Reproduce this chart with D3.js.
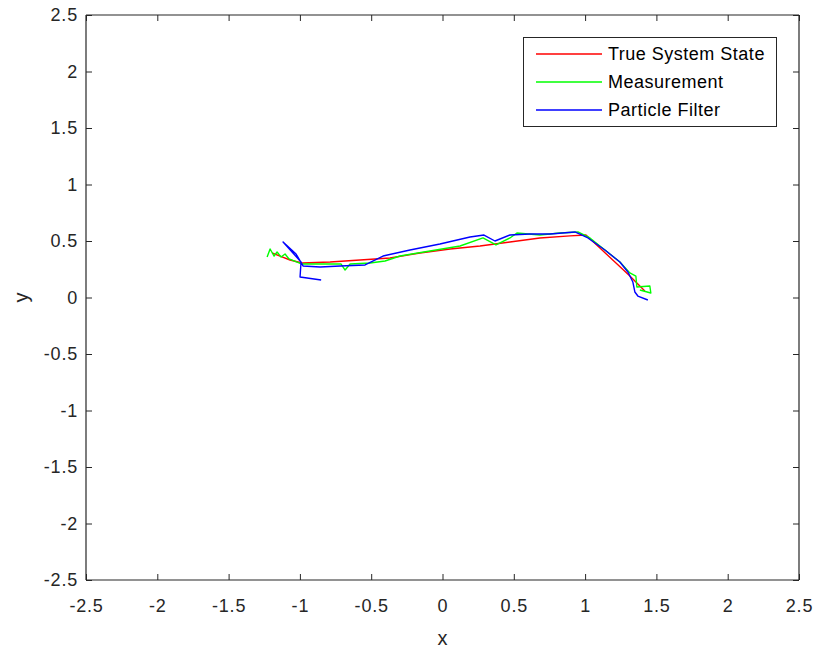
<!DOCTYPE html>
<html><head><meta charset="utf-8">
<script src="https://cdn.jsdelivr.net/npm/d3@7"></script>
<style>body{margin:0;background:#fff}text{font-family:"Liberation Sans",Arial,sans-serif}</style>
</head><body><svg id="c" width="818" height="653"></svg>
<script>
const trueX=[-1.195,-1.139,-1.069,-0.985,-0.788,-0.578,-0.368,-0.158,0.053,0.263,0.473,0.683,0.894,1.006,1.104,1.209,1.314,1.419];
const trueY=[0.394,0.367,0.332,0.305,0.314,0.332,0.350,0.394,0.429,0.456,0.491,0.527,0.545,0.553,0.438,0.314,0.190,0.057];
const measX=[-1.230,-1.209,-1.181,-1.160,-1.132,-1.104,-1.076,-0.985,-0.824,-0.711,-0.683,-0.648,-0.508,-0.403,-0.298,-0.088,0.123,0.284,0.375,0.473,0.522,0.683,0.823,0.950,1.034,1.139,1.244,1.314,1.356,1.363,1.454,1.461,1.384];
const measY=[0.358,0.429,0.367,0.403,0.358,0.385,0.341,0.296,0.296,0.296,0.243,0.296,0.305,0.323,0.367,0.412,0.456,0.527,0.465,0.527,0.571,0.553,0.571,0.580,0.527,0.420,0.314,0.217,0.190,0.093,0.102,0.040,0.066];
const pfX=[-0.851,-0.999,-0.992,-1.118,-1.027,-0.978,-0.858,-0.718,-0.543,-0.417,-0.228,-0.018,0.193,0.291,0.368,0.473,0.613,0.754,0.929,1.020,1.139,1.244,1.300,1.335,1.349,1.370,1.440];
const pfY=[0.155,0.182,0.314,0.491,0.385,0.279,0.270,0.279,0.288,0.367,0.420,0.473,0.535,0.553,0.500,0.553,0.562,0.562,0.580,0.527,0.420,0.314,0.226,0.137,0.049,0.013,-0.022];
const ticks=[-2.5,-2,-1.5,-1,-0.5,0,0.5,1,1.5,2,2.5];
const seriesNames=["True System State","Measurement","Particle Filter"];
const seriesColors=["#ff0000","#00ff00","#0000ff"];

const svg=d3.select("#c");
const L=86,R=799,T=15,B=580;
const x=d3.scaleLinear().domain([-2.5,2.5]).range([L,R]);
const y=d3.scaleLinear().domain([-2.5,2.5]).range([B,T]);
const axCol="#262626",fs=18;

const line=d3.line().x(d=>x(d[0])).y(d=>y(d[1]));
const series=[d3.zip(trueX,trueY),d3.zip(measX,measY),d3.zip(pfX,pfY)];
series.forEach((s,i)=>svg.append("path").attr("d",line(s)).attr("fill","none")
  .attr("stroke",seriesColors[i]).attr("stroke-width",1.4).attr("stroke-linejoin","round"));

const fmt=d=>String(d);
const bx=svg.append("g").attr("transform",`translate(0,${B})`).call(d3.axisBottom(x).tickValues(ticks).tickSize(-6).tickPadding(19).tickFormat(fmt));
const tx=svg.append("g").attr("transform",`translate(0,${T})`).call(d3.axisTop(x).tickValues(ticks).tickSize(-6).tickFormat(""));
const ly=svg.append("g").attr("transform",`translate(${L},0)`).call(d3.axisLeft(y).tickValues(ticks).tickSize(-6).tickPadding(8).tickFormat(fmt));
const ry=svg.append("g").attr("transform",`translate(${R},0)`).call(d3.axisRight(y).tickValues(ticks).tickSize(-6).tickFormat(""));
[bx,tx,ly,ry].forEach(g=>{g.selectAll("path").attr("stroke",axCol).attr("stroke-width",1.2);
  g.selectAll("line").attr("stroke",axCol).attr("stroke-width",1);
  g.selectAll("text").attr("fill",axCol).style("font-size",fs+"px").style("letter-spacing","0.8px").style("font-family","Liberation Sans, Arial, sans-serif");});
bx.selectAll(".domain").attr("d",`M${L},0H${R}`);
tx.selectAll(".domain").attr("d",`M${L},0H${R}`);
ly.selectAll(".domain").attr("d",`M0,${T}V${B}`);
ry.selectAll(".domain").attr("d",`M0,${T}V${B}`);

svg.append("text").attr("x",(L+R)/2).attr("y",645).attr("text-anchor","middle").attr("fill",axCol).style("font-size","20px").text("x");
svg.append("text").attr("transform",`translate(28,${(T+B)/2}) rotate(-90)`).attr("text-anchor","middle").attr("fill",axCol).style("font-size","20px").text("y");

const lg=svg.append("g");
lg.append("rect").attr("x",523.5).attr("y",37.5).attr("width",253).attr("height",89).attr("fill","#fff").attr("stroke",axCol).attr("stroke-width",1);
seriesNames.forEach((n,i)=>{
  const yy=54+i*28;
  lg.append("line").attr("x1",536).attr("x2",602).attr("y1",yy).attr("y2",yy).attr("stroke",seriesColors[i]).attr("stroke-width",1.4);
  lg.append("text").attr("x",608).attr("y",yy+6).attr("fill","#000").style("font-size","18px").style("letter-spacing","0.5px").text(n);
});
</script></body></html>
